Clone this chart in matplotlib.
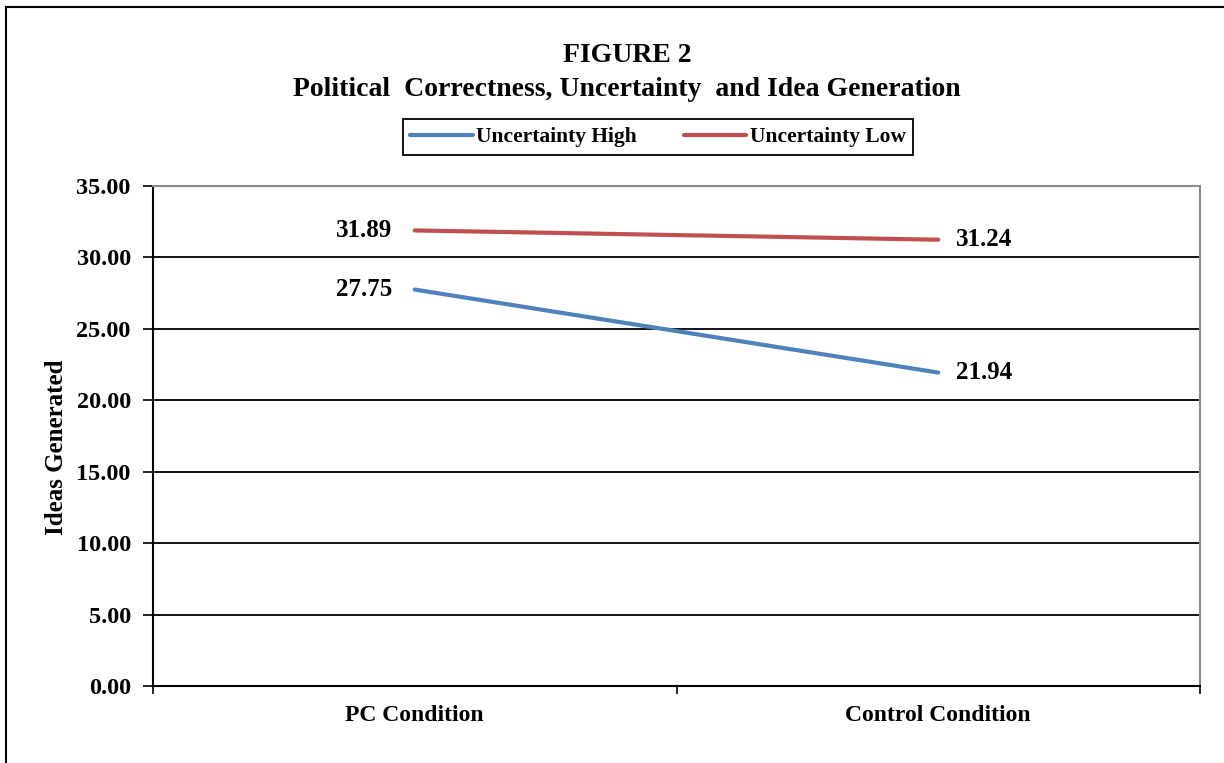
import matplotlib.pyplot as plt
from matplotlib.lines import Line2D

categories = ["PC Condition", "Control Condition"]
high_values = [27.75, 21.94]
low_values = [31.89, 31.24]
y_ticks = [0, 5, 10, 15, 20, 25, 30, 35]

plt.rcParams['font.family'] = ['Liberation Serif', 'DejaVu Serif']
plt.rcParams['font.weight'] = 'bold'

W, H = 1224, 763
fig = plt.figure(figsize=(W / 100, H / 100), dpi=100)
ax = fig.add_axes([153 / W, 1 - 686 / H, (1200 - 153) / W, (686 - 186) / H])

x = [i + 0.5 for i in range(len(categories))]
ax.plot(x, high_values, color="#4F81BD", linewidth=3, solid_capstyle="round", label="Uncertainty High", zorder=3)
ax.plot(x, low_values, color="#C0504D", linewidth=3, solid_capstyle="round", label="Uncertainty Low", zorder=3)

# value labels: left point labelled on the left, right point on the right
for vals in (high_values, low_values):
    ax.annotate(f"{vals[0]:.2f}", (x[0], vals[0]), xytext=(-16, 0), textcoords="offset points",
                ha="right", va="center", fontsize=18, fontweight="bold")
    ax.annotate(f"{vals[1]:.2f}", (x[1], vals[1]), xytext=(13, 0), textcoords="offset points",
                ha="left", va="center", fontsize=18, fontweight="bold")

ax.set_xlim(0, len(categories))
ax.set_ylim(0, 35)
ax.set_yticks(y_ticks)
ax.set_yticklabels([f"{v:.2f}" for v in y_ticks], fontsize=17.5, fontweight="bold")
ax.set_xticks(x)
ax.set_xticklabels(categories, fontsize=17, fontweight="bold")
ax.set_xticks(range(len(categories) + 1), minor=True)
ax.tick_params(axis="x", which="major", length=0, pad=14)
ax.tick_params(axis="x", which="minor", length=6, width=1.2, color="black", direction="out")
ax.tick_params(axis="y", length=7, width=1.2, direction="out", pad=9)

ax.yaxis.grid(True, color="black", linewidth=1.3)
ax.set_axisbelow(True)
ax.spines["left"].set_color("black")
ax.spines["left"].set_linewidth(1.5)
ax.spines["bottom"].set_color("black")
ax.spines["bottom"].set_linewidth(1.5)
ax.spines["top"].set_color("#8c8c8c")
ax.spines["right"].set_color("#8c8c8c")
ax.spines["top"].set_linewidth(1.5)
ax.spines["right"].set_linewidth(1.5)

ax.set_ylabel("Ideas Generated", fontsize=18, fontweight="bold")
ax.yaxis.set_label_coords(-0.081, 0.478)

fig.text(627 / W, 1 - 55 / H, "FIGURE 2", ha="center", va="center", fontsize=20, fontweight="bold")
fig.text(627 / W, 1 - 90 / H, "Political  Correctness, Uncertainty  and Idea Generation",
         ha="center", va="center", fontsize=20, fontweight="bold")

leg = fig.legend(loc="center", bbox_to_anchor=(658 / W, 1 - 137 / H), ncol=2, frameon=True,
                 fancybox=False, edgecolor="black", framealpha=1, borderpad=0.35,
                 handlelength=2.9, handletextpad=0.15, columnspacing=2.2,
                 borderaxespad=0, prop={"size": 15.5, "weight": "bold"})
leg.get_frame().set_linewidth(1.3)

# outer chart border (only top and left visible in the crop)
fig.add_artist(Line2D([6 / W, 6 / W], [0, 1 - 7 / H], color="black", linewidth=1.5, transform=fig.transFigure))
fig.add_artist(Line2D([6 / W, 1], [1 - 7 / H, 1 - 7 / H], color="black", linewidth=1.5, transform=fig.transFigure))

fig.savefig("out.png", dpi=100)
